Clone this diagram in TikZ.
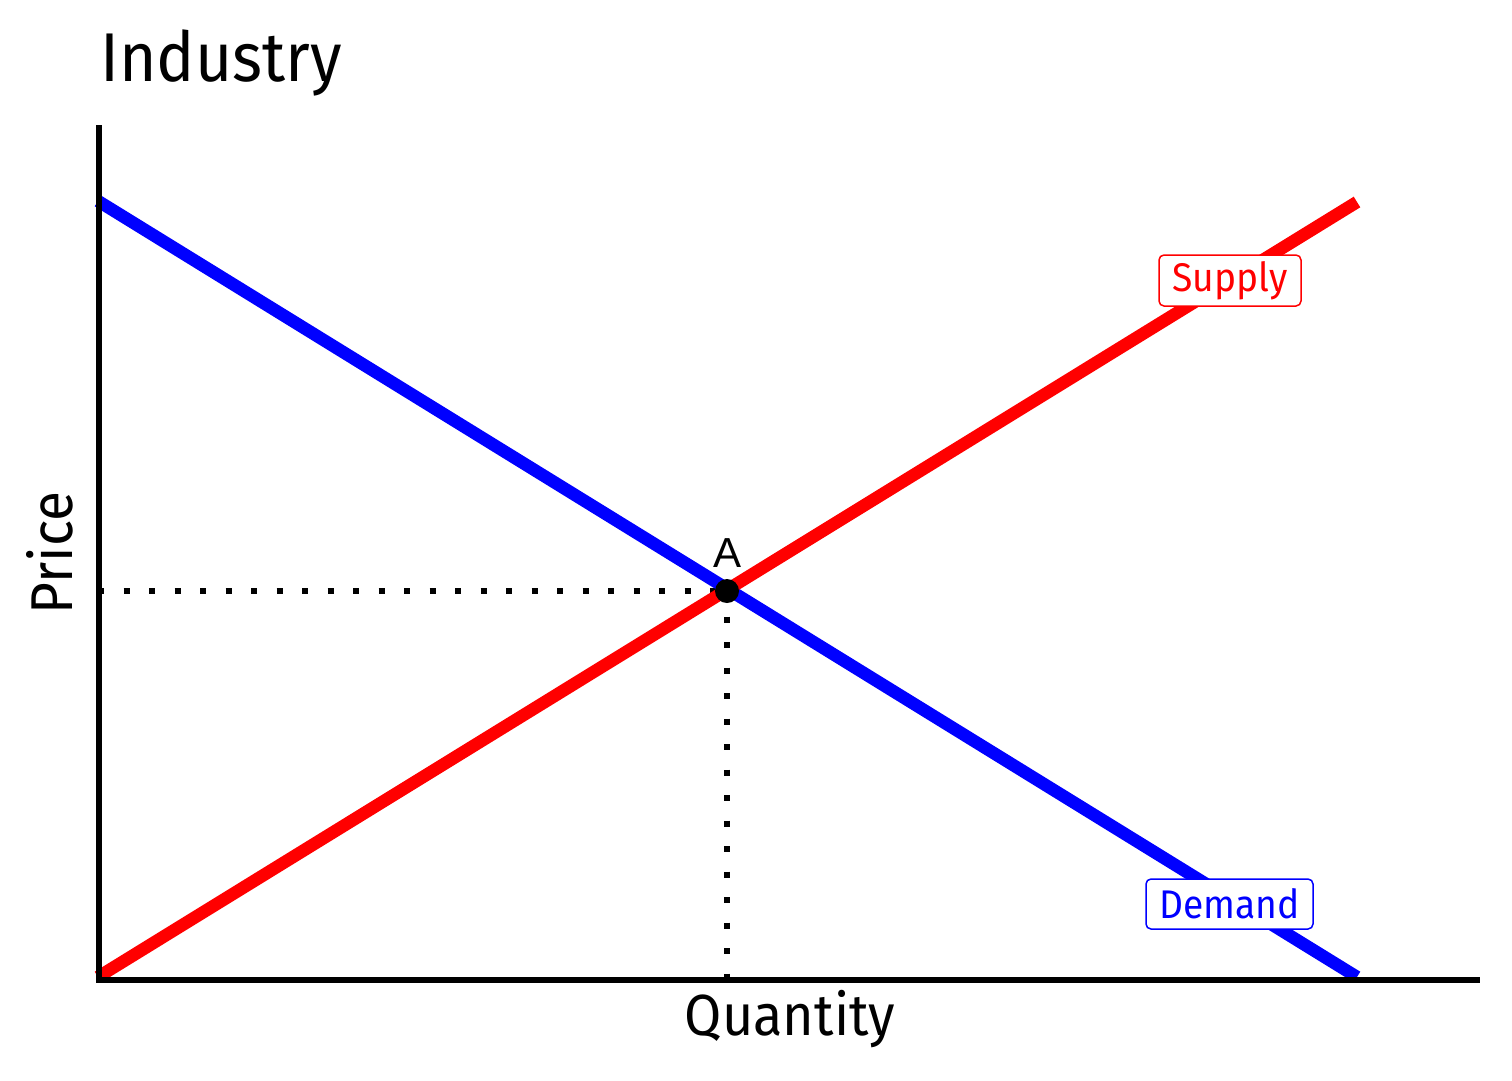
\documentclass[tikz,border=0pt]{standalone}
\usepackage{fontspec}
\setmainfont{Fira Sans}[FakeStretch=0.93]
\newfontfamily\afont{Liberation Sans}
\begin{document}
\begin{tikzpicture}[x=1pt,y=-1pt,
  axis/.style={line width=6pt},
  curve/.style={line width=12.5pt},
  guide/.style={line width=6pt, dash pattern=on 6pt off 19.5pt},
  lbl/.style={draw=#1, text=#1, fill=white, rounded corners=5pt, line width=1.5pt, inner sep=0pt, font=\fontsize{40}{40}\selectfont}]
\useasboundingbox (0,0) rectangle (1512,1080);
\coordinate (O) at (99,980);
\coordinate (ytop) at (99,125);
\coordinate (xend) at (1480,980);
\coordinate (D1) at (98,201);
\coordinate (D2) at (1357,977);
\coordinate (S1) at (98,977);
\coordinate (S2) at (1357,202);
\coordinate (E) at (727,591);
\coordinate (Ey) at (98,591);
\coordinate (Ex) at (727,980);
\draw[guide] (Ey) -- (E);
\draw[guide] (E) -- (Ex);
\draw[curve, blue] (D1) -- (D2);
\draw[curve, red] (S1) -- (S2);
\draw[axis] (ytop) -- (O) -- (xend);
\fill (E) circle (12);
\node (A) at (727,553) {\afont\fontsize{42}{42}\selectfont A};
\node[lbl=red, minimum width=142pt, minimum height=51pt] (supply) at (1230,280.5) {Supply};
\node[lbl=blue, minimum width=167pt, minimum height=50pt] (demand) at (1229.5,904) {Demand};
\node[anchor=base west, inner sep=0] (title) at (100,81) {\fontsize{69}{69}\selectfont Industry};
\node[anchor=base, inner sep=0] (qty) at (790,1035) {\fontsize{58}{58}\selectfont Quantity};
\node[anchor=base, inner sep=0, rotate=90] (price) at (72,553) {\fontsize{59}{59}\selectfont Price};
\end{tikzpicture}
\end{document}
